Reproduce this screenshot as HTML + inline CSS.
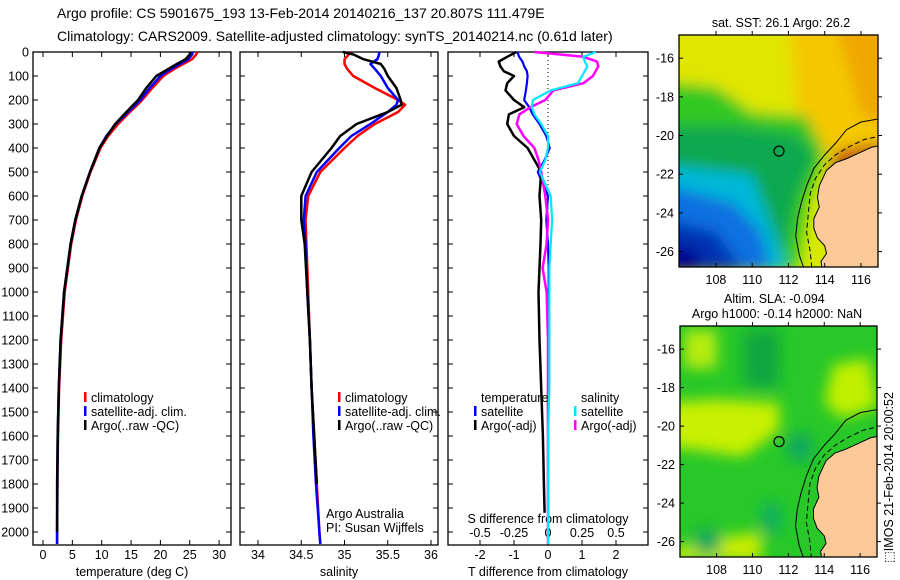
<!DOCTYPE html>
<html><head><meta charset="utf-8"><style>
html,body{margin:0;padding:0;background:#fff;}
svg{display:block;font-family:"Liberation Sans",sans-serif;}
text{fill:#000;}
</style></head><body>
<svg id="fig" width="900" height="580" viewBox="0 0 900 580">
<defs>
<filter id="blur1" x="-20%" y="-20%" width="140%" height="140%"><feGaussianBlur stdDeviation="7"/></filter>
<clipPath id="clipM1"><rect x="679" y="35" width="199" height="232"/></clipPath>
<clipPath id="clipM2"><rect x="680" y="326" width="197" height="231"/></clipPath>
</defs>
<text x="57" y="18" font-size="14">Argo profile: CS 5901675_193 13-Feb-2014 20140216_137 20.807S 111.479E</text>
<text x="57" y="41" font-size="14">Climatology: CARS2009. Satellite-adjusted climatology: synTS_20140214.nc (0.61d later)</text>
<g id="g1"></g>
<g id="g2"></g>
<g id="g3"></g>
<g id="m1"></g>
<g id="m2"></g>
<text x="0" y="0" font-size="12.5" transform="translate(893,563) rotate(-90)">⬚IMOS 21-Feb-2014 20:00:52</text>
</svg>
<script>
// ---- data ----
const depths = [0,10,30,50,70,100,150,200,220,250,300,350,400,500,600,700,800,1000,1200,1400,1600,1800,2000,2050];
const tempArgo = [25.1,25.0,24.3,22.8,21.4,19.3,17.6,16.2,15.4,14.2,12.3,10.9,9.6,8.0,6.6,5.5,4.7,3.6,3.0,2.7,2.5,2.4,2.4,2.4];
const tempClim = [26.3,26.1,25.4,23.9,22.4,20.5,18.6,16.9,16.1,14.8,12.8,11.1,9.8,8.1,6.7,5.6,4.8,3.7,3.1,2.75,2.55,2.45,2.4,2.4];
const tempSat  = [25.5,25.4,24.8,23.3,21.9,20.0,18.2,16.6,15.8,14.5,12.4,10.8,9.6,8.0,6.6,5.5,4.7,3.6,3.0,2.7,2.5,2.45,2.4,2.4];
const salArgo = [34.98,35.1,35.22,35.42,35.46,35.5,35.6,35.65,35.66,35.5,35.14,34.95,34.85,34.62,34.5,34.5,34.54,34.57,34.6,34.62,34.65,34.68,34.71,34.72];
const salClim = [35.07,35.05,35.0,35.0,35.03,35.1,35.35,35.62,35.7,35.62,35.35,35.15,35.0,34.72,34.58,34.55,34.56,34.58,34.6,34.62,34.65,34.68,34.71,34.72];
const salSat  = [35.4,35.4,35.38,35.3,35.35,35.42,35.5,35.62,35.6,35.5,35.3,35.08,34.94,34.68,34.55,34.53,34.55,34.57,34.6,34.62,34.64,34.67,34.71,34.72];
const diffDepths = [0,20,40,60,80,100,130,160,200,230,260,300,350,400,450,500,600,700,800,900,1000,1200,1400,1600,1800,1920];
const dTempClim = [-0.93,-1.2,-1.45,-1.4,-1.3,-1.0,-1.2,-1.25,-1.0,-0.7,-1.15,-1.2,-1.0,-0.6,-0.4,-0.2,-0.25,-0.2,-0.22,-0.25,-0.28,-0.25,-0.2,-0.15,-0.12,-0.1];
const dTempSat  = [-0.9,-0.85,-0.75,-0.7,-0.62,-0.6,-0.62,-0.65,-0.7,-0.55,-0.45,-0.25,-0.05,0.05,-0.1,-0.3,0.0,-0.05,0.0,0.02,0.02,0.01,0,0,0,0];
const dSalClim  = [-0.1,0.26,0.36,0.37,0.35,0.33,0.26,0.04,-0.02,-0.13,-0.21,-0.23,-0.18,-0.1,-0.07,-0.05,-0.02,0.0,-0.01,-0.04,-0.01,0,0,0,0,0];
const dSalSat   = [0.35,0.26,0.27,0.29,0.27,0.25,0.22,0.02,-0.11,-0.12,-0.1,-0.05,0.0,0.0,-0.02,-0.06,0.02,0.03,0.02,0.01,0.01,0.01,0.01,0.0,0.0,0.0];
const depthTicks = [0,100,200,300,400,500,600,700,800,900,1000,1100,1200,1300,1400,1500,1600,1700,1800,1900,2000];
const tempTicks = [0,5,10,15,20,25,30];
const salTicks = [34,34.5,35,35.5,36];
const dTTicks = [-2,-1,0,1,2];
const dSTicks = [-0.5,-0.25,0,0.25,0.5];
const latTicks = [-16,-18,-20,-22,-24,-26];
const lonTicks = [108,110,112,114,116];

const NS="http://www.w3.org/2000/svg";
function mk(parent,tag,attrs,txt){const e=document.createElementNS(NS,tag);for(const k in attrs)e.setAttribute(k,attrs[k]);if(txt!==undefined)e.textContent=txt;parent.appendChild(e);return e;}
const TOP=52,BOT=545;
const yD=d=>TOP+d*0.24;
const xT=t=>43+t*5.87;
const xS=s=>258+(s-34)*86.5;
const xD=t=>548+t*34;
const xDS=s=>548+s*4*34;

function frame(g,x0,x1,name){
  const r=mk(g,'rect',{x:x0,y:TOP,width:x1-x0,height:BOT-TOP,fill:'none',stroke:'#000','stroke-width':1.3});
  
  depthTicks.forEach(d=>{
    const y=yD(d);
    const a=mk(g,'line',{x1:x0,x2:x0+5,y1:y,y2:y,stroke:'#000'});
    
    const b=mk(g,'line',{x1:x1-5,x2:x1,y1:y,y2:y,stroke:'#000'});
    
  });
}
function xticks(g,vals,fx,labelY,labels){
  vals.forEach((v,i)=>{const x=fx(v);
    const a=mk(g,'line',{x1:x,x2:x,y1:TOP,y2:TOP+5,stroke:'#000'});
    
    const b=mk(g,'line',{x1:x,x2:x,y1:BOT-5,y2:BOT,stroke:'#000'});
    
    const t=mk(g,'text',{x:x,y:labelY,'font-size':12.5,'text-anchor':'middle'},labels?labels[i]:String(v));
    
  });
}
function line(g,ds,vs,fx,color,name,w){
  const p=mk(g,'polyline',{points:ds.map((d,i)=>fx(vs[i]).toFixed(1)+','+yD(d).toFixed(1)).join(' '),fill:'none',stroke:color,'stroke-width':w||2.5,'stroke-linejoin':'round'});
  
}
function legend(g,x,y,color,label){
  const r=mk(g,'rect',{x:x,y:y-10,width:2.5,height:10,fill:color});
  
  const t=mk(g,'text',{x:x+7,y:y,'font-size':12.5},label);
  
}
// Panel 1
const g1=document.getElementById('g1');
frame(g1,33,231,'temperature');
depthTicks.forEach(d=>{const t=mk(g1,'text',{x:29,y:yD(d)+4.5,'font-size':12.5,'text-anchor':'end'},String(d));
  });
xticks(g1,tempTicks,xT,559);
mk(g1,'text',{x:132,y:576,'font-size':12.5,'text-anchor':'middle'},'temperature (deg C)');
line(g1,depths,tempClim,xT,'#ff0000','temp-climatology-line');
line(g1,depths,tempSat,xT,'#0000ff','temp-satellite-line');
line(g1,depths.slice(0,-1),tempArgo.slice(0,-1),xT,'#000','temp-argo-line');
legend(g1,84,402,'#ff0000','climatology');
legend(g1,84,416,'#0000ff','satellite-adj. clim.');
legend(g1,84,430,'#000','Argo(..raw -QC)');
// Panel 2
const g2=document.getElementById('g2');
frame(g2,240,438,'salinity');
xticks(g2,salTicks,xS,559);
mk(g2,'text',{x:339,y:576,'font-size':12.5,'text-anchor':'middle'},'salinity');
line(g2,depths,salClim,xS,'#ff0000','sal-climatology-line');
line(g2,depths,salSat,xS,'#0000ff','sal-satellite-line');
line(g2,depths.slice(0,-2),salArgo.slice(0,-2),xS,'#000','sal-argo-line');
legend(g2,338,402,'#ff0000','climatology');
legend(g2,338,416,'#0000ff','satellite-adj. clim.');
legend(g2,338,430,'#000','Argo(..raw -QC)');
mk(g2,'text',{x:326,y:518,'font-size':12.5},'Argo Australia');
mk(g2,'text',{x:326,y:532,'font-size':12.5},'PI: Susan Wijffels');
// Panel 3
const g3=document.getElementById('g3');
frame(g3,448,648,'difference');
mk(g3,'line',{x1:548,x2:548,y1:TOP,y2:BOT,stroke:'#000','stroke-dasharray':'1,3'});
xticks(g3,dTTicks,xD,559);
dSTicks.forEach((v,i)=>{const t=mk(g3,'text',{x:xDS(v),y:537,'font-size':12.5,'text-anchor':'middle'},['-0.5','-0.25','0','0.25','0.5'][i]);
  });
mk(g3,'text',{x:548,y:523,'font-size':12.5,'text-anchor':'middle'},'S difference from climatology');
mk(g3,'text',{x:548,y:576,'font-size':12.5,'text-anchor':'middle'},'T difference from climatology');
line(g3,diffDepths,dTempSat,xD,'#0000ff','dtemp-satellite-line',2.2);
line(g3,diffDepths,dTempClim,xD,'#000','dtemp-argo-line',2.5);
line(g3,diffDepths.concat([2050]),dSalClim.concat([0]),xDS,'#ff00ff','dsal-argo-line',2.5);
line(g3,diffDepths.concat([2050]),dSalSat.concat([0]),xDS,'#00e8ff','dsal-satellite-line',2.2);
mk(g3,'text',{x:481,y:402,'font-size':12.5},'temperature');
mk(g3,'text',{x:581,y:402,'font-size':12.5},'salinity');
legend(g3,474,416,'#0000ff','satellite');
legend(g3,474,430,'#000','Argo(-adj)');
legend(g3,574,416,'#00e8ff','satellite');
legend(g3,574,430,'#ff00ff','Argo(-adj)');
// Maps
function mapProj(x0,x1,y0,y1){const lon0=105.96,lon1=116.94,lat0=-14.8,lat1=-26.8;
  return [lon=>x0+(lon-lon0)/(lon1-lon0)*(x1-x0), lat=>y0+(lat-lat0)/(lat1-lat0)*(y1-y0)];}
const coast=[[117.2,-20.5],[116.6,-20.6],[115.9,-20.9],[115.2,-21.2],[114.6,-21.4],[114.1,-21.8],[113.9,-22.2],[113.7,-22.6],[113.6,-23.2],[113.7,-23.7],[113.4,-24.3],[113.4,-24.8],[113.6,-25.3],[114.0,-25.7],[114.1,-26.1],[113.8,-26.5],[113.9,-27.2],[117.2,-27.2]];
const c1000=[[117.2,-19.1],[116,-19.3],[115.2,-19.7],[114.6,-20.4],[114.0,-21.0],[113.4,-21.7],[113.0,-22.6],[112.7,-23.5],[112.5,-24.3],[112.4,-25.2],[112.6,-26.2],[112.9,-27.0]];
const c200=[[117.2,-20.0],[116.2,-20.2],[115.3,-20.6],[114.6,-21.0],[114.0,-21.5],[113.5,-22.2],[113.2,-23.0],[113.1,-24.0],[113.0,-25.0],[113.2,-26.0],[113.3,-27.0]];
function drawMap(id,x0,x1,y0,y1,blobs,base,clip){
  const g=document.getElementById(id);const [px,py]=mapProj(x0,x1,y0,y1);
  const cg=mk(g,'g',{'clip-path':'url(#'+clip+')'});
  mk(cg,'rect',{x:x0,y:y0,width:x1-x0,height:y1-y0,fill:base});
  const bg=mk(cg,'g',{filter:'url(#blur1)'});
  blobs.forEach(b=>{const e=mk(bg,'polygon',{points:b[0].map(p=>px(p[0])+','+py(p[1])).join(' '),fill:b[1]});
    });
  const land=mk(cg,'polygon',{points:coast.map(p=>px(p[0])+','+py(p[1])).join(' '),fill:'#fcca98',stroke:'#000','stroke-width':1});
  
  mk(cg,'polyline',{points:c1000.map(p=>px(p[0])+','+py(p[1])).join(' '),fill:'none',stroke:'#000','stroke-width':1});
  mk(cg,'polyline',{points:c200.map(p=>px(p[0])+','+py(p[1])).join(' '),fill:'none',stroke:'#000','stroke-width':1,'stroke-dasharray':'5,3'});
  const ci=mk(g,'circle',{cx:px(111.479),cy:py(-20.807),r:5,fill:'none',stroke:'#000','stroke-width':1.2});
  
  mk(g,'rect',{x:x0,y:y0,width:x1-x0,height:y1-y0,fill:'none',stroke:'#000','stroke-width':1.3});
  latTicks.forEach(l=>{const y=py(l);
    mk(g,'line',{x1:x0,x2:x0+4,y1:y,y2:y,stroke:'#000'});mk(g,'line',{x1:x1,x2:x1+4,y1:y,y2:y,stroke:'#000'});
    const t=mk(g,'text',{x:x0-5,y:y+4.5,'font-size':12.5,'text-anchor':'end'},String(l));
    });
  lonTicks.forEach(l=>{const x=px(l);
    mk(g,'line',{x1:x,x2:x,y1:y0-4,y2:y0,stroke:'#000'});mk(g,'line',{x1:x,x2:x,y1:y1,y2:y1-4,stroke:'#000'});
    const t=mk(g,'text',{x:x,y:y1+17,'font-size':12.5,'text-anchor':'middle'},String(l));
    });
}
drawMap('m1',679,878,35,267,[
  [[[105,-14],[118,-14],[118,-19],[105,-19]],'#e0e600'],
  [[[112,-14],[118,-14],[118,-21],[114,-21],[112.5,-19]],'#f4c800'],
  [[[114.5,-14],[118,-14],[118,-19.5],[116,-19]],'#f0a800'],
  [[[105,-17.2],[108,-17.5],[110,-18.8],[113,-19],[114,-20.8],[113,-23.5],[112.5,-27],[105,-27]],'#30c820'],
  [[[105,-19.5],[109,-19.5],[112.5,-20],[113.5,-21],[112.5,-23],[111.5,-27],[105,-27]],'#10a850'],
  [[[105,-21.5],[110,-22],[111,-24.5],[112,-27],[105,-27]],'#00b8d8'],
  [[[105,-22.5],[109,-23.5],[110.5,-25],[111,-27],[105,-27]],'#1070e0'],
  [[[105,-24.3],[108,-25],[109.5,-27],[105,-27]],'#0030b0'],
  [[[105,-25.5],[107,-26],[107.5,-27],[105,-27]],'#000090'],
  [[[114.6,-20.8],[116,-20.6],[117,-20.3],[117,-21.3],[114.2,-22.6]],'#c05010']
],'#d8e800','clipM1');
drawMap('m2',680,877,326,557,[
  [[[105,-18.8],[108,-18.6],[111.5,-18.8],[111.5,-20.2],[109.5,-21.6],[105,-21]],'#c8f000'],
  [[[106.2,-15],[108,-15],[108,-17],[106.2,-17]],'#b8ec10'],
  [[[114.5,-16.8],[116.5,-16.5],[117,-19],[115,-19.6],[114,-18.8]],'#c0f000'],
  [[[108,-25.8],[110.5,-25.5],[110.5,-27],[105,-27],[105,-26.5]],'#c8ec00'],
  [[[109.5,-15],[111.5,-15],[111.5,-18],[109.5,-18]],'#10a840'],
  [[[112,-20.4],[113.3,-20.4],[113.3,-21.8],[112,-21.8]],'#10a860'],
  [[[110.5,-24],[111.6,-24],[111.6,-25.6],[110.5,-25.6]],'#10b060'],
  [[[106.8,-25.4],[108.2,-25.4],[108.2,-26.6],[106.8,-26.6]],'#10a860']
],'#28c828','clipM2');
const mt=[['sat. SST: 26.1 Argo: 26.2',781,27,'sst-map-title'],['Altim. SLA: -0.094',724,303,'sla-map-title'],['Argo h1000: -0.14 h2000: NaN',777,318,'argo-height-title']];
mt.forEach(m=>{const t=mk(document.getElementById('fig'),'text',{x:m[1],y:m[2],'font-size':12.5,'text-anchor':m[3]==='sla-map-title'?'start':'middle'},m[0]);
  });
</script>
</body></html>
